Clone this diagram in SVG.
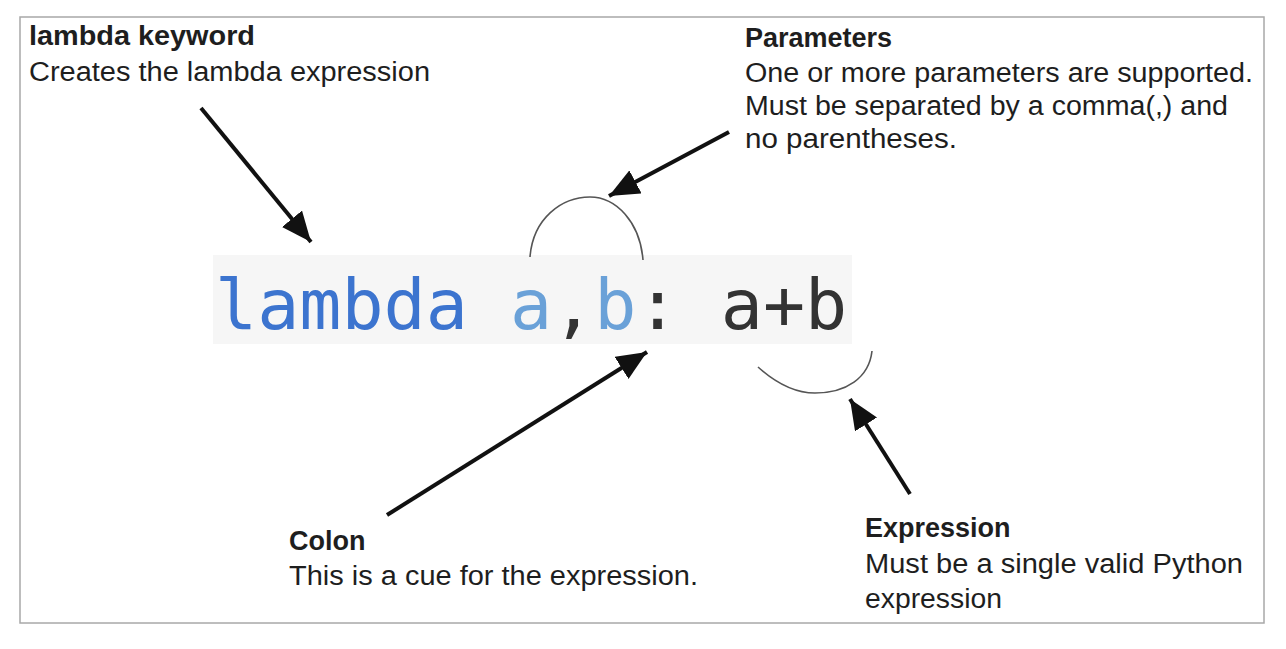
<svg xmlns="http://www.w3.org/2000/svg" width="1286" height="649" viewBox="0 0 1286 649">
<style>
.t{font-family:"Liberation Sans",Arial,sans-serif;font-size:27px;fill:#1e1e1e}
.b{font-weight:bold}
.code{font-family:"DejaVu Sans Mono",monospace;font-size:70px}
.arr{stroke:#111;stroke-width:4;fill:none;marker-end:url(#ah)}
.arc{stroke:#555;stroke-width:1.6;fill:none}
</style>
<defs>
<marker id="ah" markerUnits="userSpaceOnUse" markerWidth="32" markerHeight="26" refX="30" refY="13" orient="auto">
<path d="M0,0 L30,13 L0,26 Z" fill="#111"/>
</marker>
</defs>
<rect x="0" y="0" width="1286" height="649" fill="#fff"/>
<rect x="20" y="17" width="1244" height="606" fill="#fff" stroke="#a8a8a8" stroke-width="1.5"/>
<g id="code">
<rect x="213" y="255" width="639" height="89" fill="#f6f6f6"/>
<text class="code" x="215" y="329"><tspan fill="#3c74cf">lambda</tspan><tspan fill="#6aa1d8"> a</tspan><tspan fill="#333">,</tspan><tspan fill="#6aa1d8">b</tspan><tspan fill="#333">: a+b</tspan></text>
</g>
<g id="lambda-keyword">
<text class="t b" x="29" y="45" textLength="226" lengthAdjust="spacingAndGlyphs">lambda keyword</text>
<text class="t" x="29" y="81" textLength="401" lengthAdjust="spacingAndGlyphs">Creates the lambda expression</text>
</g>
<g id="parameters">
<text class="t b" x="745" y="47">Parameters</text>
<text class="t" x="745" y="82" textLength="508" lengthAdjust="spacingAndGlyphs">One or more parameters are supported.</text>
<text class="t" x="745" y="115" textLength="483" lengthAdjust="spacingAndGlyphs">Must be separated by a comma(,) and</text>
<text class="t" x="745" y="148" textLength="212" lengthAdjust="spacingAndGlyphs">no parentheses.</text>
</g>
<g id="colon">
<text class="t b" x="289" y="550">Colon</text>
<text class="t" x="289" y="585" textLength="409" lengthAdjust="spacingAndGlyphs">This is a cue for the expression.</text>
</g>
<g id="expression">
<text class="t b" x="865" y="537">Expression</text>
<text class="t" x="865" y="573" textLength="378" lengthAdjust="spacingAndGlyphs">Must be a single valid Python</text>
<text class="t" x="865" y="608" textLength="137" lengthAdjust="spacingAndGlyphs">expression</text>
</g>
<g id="connectors">
<line class="arr" x1="201" y1="108" x2="311" y2="242"/>
<line class="arr" x1="729" y1="132" x2="609" y2="196"/>
<line class="arr" x1="387" y1="515" x2="647" y2="352"/>
<line class="arr" x1="910" y1="494" x2="850" y2="399"/>
<path class="arc" d="M530,257 C533,218 562,197 590,197 C616,197 640,222 643,260"/>
<path class="arc" d="M758,367 C778,385 798,393 815,393 C846,393 869,378 872,351"/>
</g>
</svg>
